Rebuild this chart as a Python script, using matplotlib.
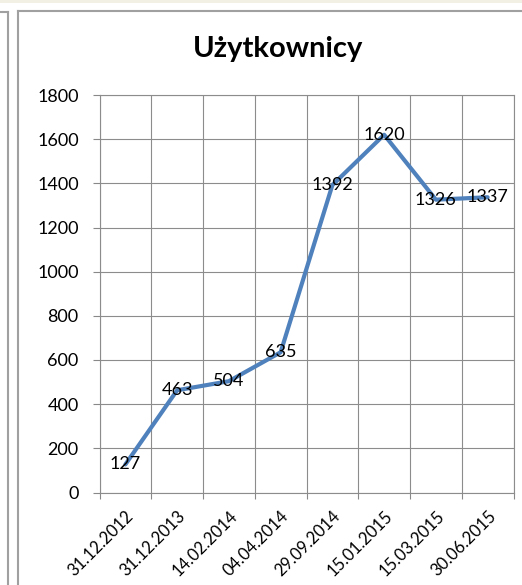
import numpy as np
import matplotlib.pyplot as plt
from matplotlib.lines import Line2D

daty = ['31.12.2012', '31.12.2013', '14.02.2014', '04.04.2014',
        '29.09.2014', '15.01.2015', '15.03.2015', '30.06.2015']
uzytkownicy = [127, 463, 504, 635, 1392, 1620, 1326, 1337]
y_ticks = [0, 200, 400, 600, 800, 1000, 1200, 1400, 1600, 1800]

plt.rcParams['font.family'] = ['Lato', 'DejaVu Sans']
W, H = 522, 585
fig = plt.figure(figsize=(W / 100, H / 100), dpi=100)

# background frame of the sheet
fig.add_artist(plt.Rectangle((0, 1 - 3 / H), 1, 3 / H, transform=fig.transFigure,
                             color='#f2efe4', lw=0))
grey = '#a0a0a0'
fig.add_artist(Line2D([7.5 / W, 7.5 / W], [0, 1 - 12 / H], transform=fig.transFigure, color=grey, lw=1.5))
fig.add_artist(Line2D([0, 7.5 / W], [1 - 12 / H, 1 - 12 / H], transform=fig.transFigure, color=grey, lw=1.5))
fig.add_artist(Line2D([17.5 / W, 17.5 / W], [0, 1 - 10.5 / H], transform=fig.transFigure, color=grey, lw=1.5))
fig.add_artist(Line2D([17.5 / W, 1], [1 - 10.5 / H, 1 - 10.5 / H], transform=fig.transFigure, color=grey, lw=1.5))

ax = fig.add_axes([99.5 / W, 1 - 492.5 / H, 414 / W, 397.5 / H])
x = np.arange(len(daty))
ax.plot(x, uzytkownicy, color='#4f81bd', lw=3, solid_capstyle='round', zorder=3)
for xi, v in zip(x, uzytkownicy):
    ax.text(xi, v, str(v), ha='center', va='center', fontsize=13, zorder=4)

ax.set_xlim(-0.5, len(daty) - 0.5)
ax.set_ylim(0, 1800)
ax.set_yticks(y_ticks)
ax.set_xticks(x)
ax.set_xticklabels(daty, rotation=45, ha='right', rotation_mode='anchor', fontsize=12)
ax.set_xticks(np.arange(-0.5, len(daty)), minor=True)
ax.tick_params(axis='x', which='major', length=0, pad=11)
ax.tick_params(axis='x', which='minor', length=4.5, color='#888888', width=0.8)
ax.tick_params(axis='y', length=5, color='#888888', width=0.8, pad=10, labelsize=13)
ax.grid(True, axis='y', color='#8c8c8c', lw=0.8)
ax.grid(True, axis='x', which='minor', color='#8c8c8c', lw=0.8)
for s in ax.spines.values():
    s.set_color('#8c8c8c')
    s.set_linewidth(0.8)

fig.text(278 / W, 1 - 49 / H, 'Użytkownicy', ha='center', va='center',
         fontsize=21, fontweight='bold')

plt.savefig('out.png', dpi=100)
